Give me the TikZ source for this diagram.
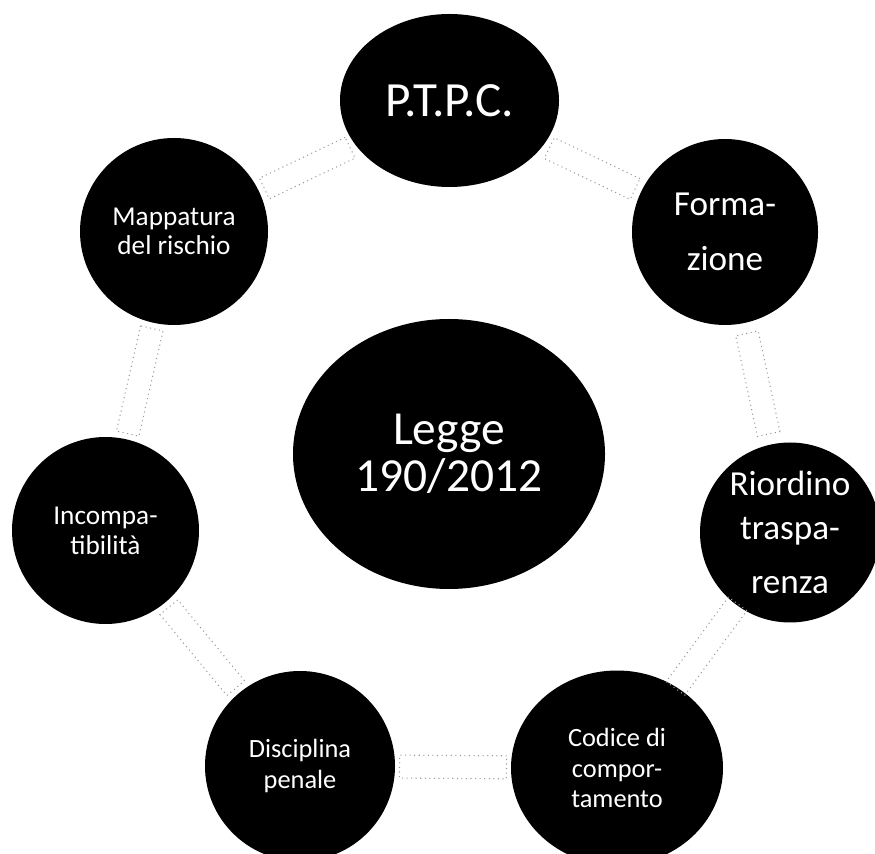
\documentclass[tikz,border=0pt]{standalone}
\usepackage{fontspec}
\setmainfont{Carlito}
\usetikzlibrary{shapes.geometric}

\begin{document}
\begin{tikzpicture}[
		bubble/.style={ellipse, fill=black, text=white, align=center, inner sep=0pt},
		link/.style={rectangle, draw=gray!80, dotted, line width=0.6pt, inner sep=0pt, minimum height=0.46cm}
	]
	\useasboundingbox (0,0) rectangle (17.5,17.06);
	\node[bubble, minimum width=6.24cm, minimum height=5.4cm, font=\fontsize{27}{26.5}\selectfont] (legge) at (8.98,7.98) {Legge\\190/2012};
	\node[bubble, minimum width=4.38cm, minimum height=3.46cm, font=\fontsize{28}{28}\selectfont] (ptpc) at (8.99,15.05) {P.T.P.C.};
	\node[bubble, minimum width=3.72cm, minimum height=3.72cm, font=\fontsize{20}{31}\selectfont] (formazione) at (14.5,12.42) {Forma-\\zione};
	\node[bubble, minimum width=3.6cm, minimum height=3.6cm, font=\fontsize{20}{25}\selectfont] (riordino) at (15.8,6.41) {Riordino\\traspa-\\[6pt]renza};
	\node[bubble, minimum width=4.24cm, minimum height=3.9cm, font=\fontsize{15}{17.5}\selectfont] (codice) at (12.34,1.7) {Codice di\\compor-\\tamento};
	\node[bubble, minimum width=3.8cm, minimum height=3.8cm, font=\fontsize{15}{18}\selectfont] (disciplina) at (6.0,1.74) {Disciplina\\penale};
	\node[bubble, minimum width=3.74cm, minimum height=3.74cm, font=\fontsize{15.5}{17}\selectfont] (incomp) at (2.11,6.45) {Incompa-\\tibilità};
	\node[bubble, minimum width=3.76cm, minimum height=3.74cm, font=\fontsize{15.5}{16.5}\selectfont] (mappatura) at (3.48,12.43) {Mappatura\\del rischio};
	% faint links round the ring
	\path (ptpc) -- (formazione) node[link, midway, sloped, minimum width=1.9cm] {};
	\path (formazione) -- (riordino) node[link, midway, sloped, minimum width=2.06cm] {};
	\path (riordino) -- (codice) node[link, midway, sloped, minimum width=2.1cm] {};
	\path (codice) -- (disciplina) node[link, midway, sloped, minimum width=2.14cm] {};
	\path (disciplina) -- (incomp) node[link, midway, sloped, minimum width=2.1cm] {};
	\path (incomp) -- (mappatura) node[link, midway, sloped, minimum width=2.16cm] {};
	\path (mappatura) -- (ptpc) node[link, midway, sloped, minimum width=1.9cm] {};
\end{tikzpicture}
\end{document}
